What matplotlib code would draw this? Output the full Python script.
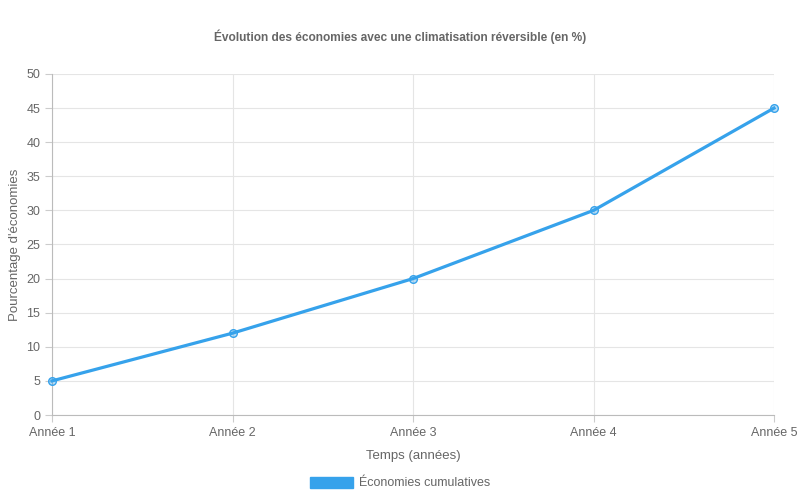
import matplotlib.pyplot as plt
from matplotlib.patches import Patch

plt.rcParams['font.family'] = ['Liberation Sans', 'DejaVu Sans']

annees = ["Année 1", "Année 2", "Année 3", "Année 4", "Année 5"]
economies = [5, 12, 20, 30, 45]

bleu = "#36A2EB"
gris = "#666666"

fig = plt.figure(figsize=(8, 5), dpi=100)
ax = fig.add_axes([0.065, 0.17, 0.9025, 0.682])

x = list(range(len(annees)))
ax.plot(x, economies, color=bleu, linewidth=2.3, marker="o", markersize=5.5,
        markerfacecolor=(0.21, 0.64, 0.92, 0.35), markeredgecolor=bleu,
        markeredgewidth=1.0, zorder=3, clip_on=False)

ax.set_xlim(0, len(annees) - 1)
ax.set_ylim(0, 50)
ax.set_xticks(x)
ax.set_xticklabels(annees)
ax.set_yticks(range(0, 51, 5))

ax.grid(True, color="#e5e5e5", linewidth=0.8)
ax.set_axisbelow(True)
for s in ["top", "right"]:
    ax.spines[s].set_visible(False)
for s in ["left", "bottom"]:
    ax.spines[s].set_color("#bbbbbb")
    ax.spines[s].set_linewidth(0.8)
ax.tick_params(colors="#cccccc", labelcolor=gris, labelsize=9, length=5, width=0.8)

ax.set_xlabel("Temps (années)", color=gris, fontsize=9.5, labelpad=8)
ax.set_ylabel("Pourcentage d'économies", color=gris, fontsize=9.5, labelpad=4)

fig.text(0.5, 0.926, "Évolution des économies avec une climatisation réversible (en %)",
         ha="center", va="center", fontsize=8.6, fontweight="bold", color=gris)

leg = fig.legend(handles=[Patch(facecolor=bleu, edgecolor=bleu, label="Économies cumulatives")],
                 loc="center", bbox_to_anchor=(0.5, 0.034), frameon=False,
                 fontsize=9, handlelength=3.4, handleheight=1.0, handletextpad=0.5)
for t in leg.get_texts():
    t.set_color(gris)

fig.savefig("out.png", dpi=100)
